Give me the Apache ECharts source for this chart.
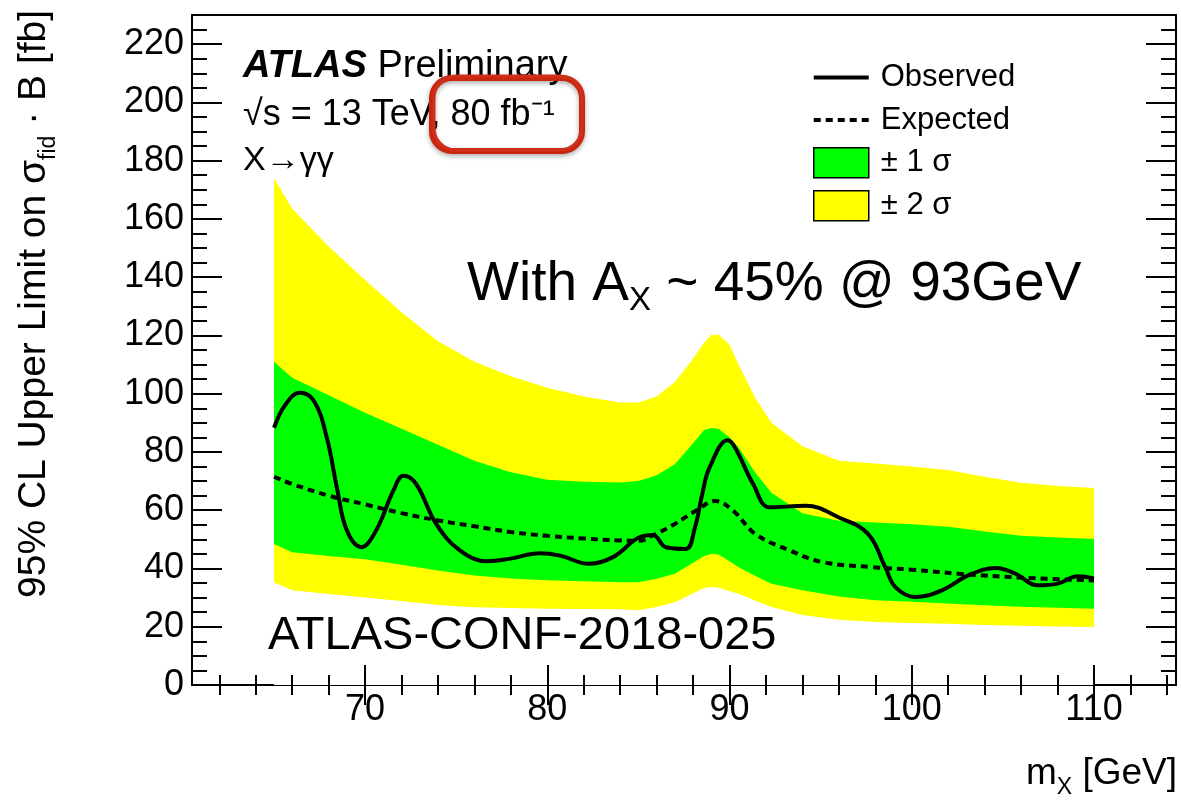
<!DOCTYPE html>
<html>
<head>
<meta charset="utf-8">
<script src="https://cdn.jsdelivr.net/npm/echarts@6/dist/echarts.min.js"></script>
<style>
  html, body { margin: 0; padding: 0; background: #fff; }
  #chart { width: 1181px; height: 800px; }
</style>
</head>
<body>
<div id="chart"></div>
<script>
const FONT = "Liberation Sans";

// bands (expected +-1 / +-2 sigma)
const bandX = [65, 66, 68, 70, 72, 74, 76, 78, 80, 82, 84, 85, 86, 87, 88, 88.6, 89, 89.4, 90, 90.5, 91.4, 92.3, 94, 96, 98, 100, 102, 104, 106, 108, 110];
const plus2 = [174, 163.5, 150.5, 139, 128, 118, 111, 106, 102, 99, 97, 97, 99, 104, 112, 117.5, 120.2, 120.2, 116.8, 110, 98.6, 90, 82, 77, 76, 75, 73.8, 71.5, 69.4, 68.3, 67.6];
const plus1 = [111, 105.5, 99.5, 93.5, 88, 82.5, 77, 73, 70.5, 69.8, 69.5, 70, 72, 75.8, 83, 87.5, 88.2, 88, 85, 81.5, 73, 66, 59, 56.4, 55.8, 55.2, 54.3, 52.7, 51.2, 50.6, 50.1];
const minus1 = [48.4, 45.6, 44.3, 43.2, 41.3, 39.3, 37.6, 36.6, 36, 35.6, 35.3, 35.3, 36.5, 38.2, 42, 44.3, 45, 44.8, 42.5, 40.4, 37.5, 34.8, 32.5, 30.4, 29.1, 28.6, 28, 27.4, 26.9, 26.5, 26.2];
const minus2 = [35.3, 32.5, 31.2, 30, 28.8, 27.5, 26.7, 26.4, 26.2, 26.1, 26, 25.7, 26.8, 28.4, 31.5, 33.3, 33.6, 33.4, 32.2, 31.3, 29, 26.8, 24, 22.4, 21.6, 21.3, 21, 20.6, 20.3, 20.1, 19.9];

const expX = [65, 66, 68, 70, 72, 74, 76, 78, 80, 82, 84, 85, 86, 87, 88.3, 89.2, 90.2, 91.4, 93.3, 95.1, 97.8, 100, 102.6, 106.2, 110];
const expY = [71.5, 69, 65, 62, 59, 56.5, 54.5, 52.5, 51.2, 50.3, 49.6, 49.5, 52, 55.3, 60.4, 63.2, 59.8, 51.9, 46.2, 42.2, 40.5, 39.6, 38.2, 36.8, 35.9];

const obsX = [65, 65.6, 66.4, 67.2, 67.9, 68.45, 69, 69.8, 70.6, 71.55, 72.1, 72.8, 73.9, 75.2, 76.7, 77.9, 79.6, 80.7, 82.3, 83.6, 85.05, 85.8, 86.5, 87.6, 88.1, 88.5, 88.9, 89.9, 90.3, 91.3, 92.2, 94.2, 96, 97.6, 98.55, 99.1, 100.2, 101.65, 103.1, 104.6, 105.7, 106.9, 108, 109.1, 110];
const obsY = [88.3, 96, 100.3, 97.4, 84.9, 67.8, 53, 47.3, 53, 66.7, 71.8, 69, 55.3, 46.2, 42.5, 43.3, 45.2, 44.4, 41.6, 43.9, 50.7, 51.5, 47.3, 46.7, 54.1, 65.5, 74.6, 84, 81.5, 68.9, 61, 61.5, 57.5, 51.9, 40.4, 33.6, 30.2, 32.5, 37.6, 40.2, 38.2, 34.2, 34.8, 37.3, 36.5];

// axis ticks
const xMajor = [70, 80, 90, 100, 110];
const xMinor = [62, 64, 66, 68, 72, 74, 76, 78, 82, 84, 86, 88, 92, 94, 96, 98, 102, 104, 106, 108, 112, 114];
const yMajor = [0, 20, 40, 60, 80, 100, 120, 140, 160, 180, 200, 220];
const yMinor = [5, 10, 15, 25, 30, 35, 45, 50, 55, 65, 70, 75, 85, 90, 95, 105, 110, 115, 125, 130, 135, 145, 150, 155, 165, 170, 175, 185, 190, 195, 205, 210, 215, 225];

const pairs = (xs, ys) => xs.map((x, i) => [x, ys[i]]);

const chart = echarts.init(document.getElementById("chart"));

function xAxisDef(position, ticks, len, showLabel) {
  return {
    type: "value", position, min: 60.5, max: 114.5, z: 10,
    axisLine: { show: false },
    splitLine: { show: false },
    axisTick: { show: true, inside: true, length: len, customValues: ticks, lineStyle: { color: "#000", width: 2 } },
    axisLabel: showLabel
      ? { show: true, customValues: ticks, color: "#000", fontSize: 36, fontFamily: FONT, margin: 7 }
      : { show: false }
  };
}

function yAxisDef(position, ticks, len, showLabel) {
  return {
    type: "value", position, min: 0, max: 230, z: 10,
    axisLine: { show: false },
    splitLine: { show: false },
    axisTick: { show: true, inside: true, length: len, customValues: ticks, lineStyle: { color: "#000", width: 2 } },
    axisLabel: showLabel
      ? { show: true, customValues: ticks, color: "#000", fontSize: 36, fontFamily: FONT, margin: 8 }
      : { show: false }
  };
}

function band(name, ys, color) {
  return {
    name, type: "line", xAxisIndex: 0, yAxisIndex: 0,
    data: pairs(bandX, ys),
    symbol: "none", silent: true,
    lineStyle: { width: 0, color },
    itemStyle: { color },
    areaStyle: { color, opacity: 1, origin: "start" }
  };
}

const option = {
  animation: false,
  backgroundColor: "#fff",
  grid: { left: 192, right: 5, top: 15, bottom: 115, show: true, borderColor: "#000", borderWidth: 2, backgroundColor: "transparent" },
  xAxis: [
    xAxisDef("bottom", xMajor, 20, true),
    xAxisDef("bottom", xMinor, 10, false),
    xAxisDef("top", xMajor, 20, false),
    xAxisDef("top", xMinor, 10, false)
  ],
  yAxis: [
    yAxisDef("left", yMajor, 30, true),
    yAxisDef("left", yMinor, 15, false),
    yAxisDef("right", yMajor, 30, false),
    yAxisDef("right", yMinor, 15, false)
  ],
  legend: {
    orient: "vertical", left: 813, top: 62, padding: 0,
    itemWidth: 55, itemHeight: 30, itemGap: 11.5,
    selectedMode: false,
    textStyle: { fontSize: 31, fontFamily: FONT, color: "#000", padding: [0, 0, 0, 7] },
    data: [
      { name: "Observed", icon: "path://M0,0L55,0L55,4L0,4Z", itemStyle: { color: "#000", borderWidth: 0 } },
      { name: "Expected", icon: "path://M0,0h7v4h-7z M12,0h7v4h-7z M24,0h7v4h-7z M36,0h7v4h-7z M48,0h7v4h-7z", itemStyle: { color: "#000", borderWidth: 0 } },
      { name: "± 1 σ", icon: "rect", itemStyle: { color: "#00ff00", borderColor: "#000", borderWidth: 1.5 } },
      { name: "± 2 σ", icon: "rect", itemStyle: { color: "#ffff00", borderColor: "#000", borderWidth: 1.5 } }
    ]
  },
  series: [
    band("± 2 σ", plus2, "#ffff00"),
    band("± 1 σ", plus1, "#00ff00"),
    band("lower 1", minus1, "#ffff00"),
    band("lower 2", minus2, "#ffffff"),
    {
      name: "Expected", type: "line", data: pairs(expX, expY),
      symbol: "none", smooth: 0.4, silent: true,
      itemStyle: { color: "#000" },
      lineStyle: { color: "#000", width: 4, type: [7, 5] }
    },
    {
      name: "Observed", type: "line", data: pairs(obsX, obsY),
      symbol: "none", smooth: 0.4, silent: true,
      itemStyle: { color: "#000" },
      lineStyle: { color: "#000", width: 4 }
    }
  ],
  graphic: [
    {
      type: "text", x: 243, y: 67, z: 100,
      style: {
        text: "{b|ATLAS} Preliminary", fontSize: 38, fontFamily: FONT, fill: "#000",
        align: "left", verticalAlign: "middle",
        rich: { b: { fontSize: 38, fontFamily: FONT, fontWeight: "bold", fontStyle: "italic" } }
      }
    },
    {
      type: "text", x: 243, y: 115, z: 100,
      style: { text: "√s = 13 TeV, 80 fb⁻¹", fontSize: 36, fontFamily: FONT, fill: "#000", align: "left", verticalAlign: "middle" }
    },
    {
      type: "text", x: 243, y: 161, z: 100,
      style: { text: "X→γγ", fontSize: 34, fontFamily: FONT, fill: "#000", align: "left", verticalAlign: "middle" }
    },
    {
      type: "rect", z: 101,
      shape: { x: 432, y: 78, width: 150, height: 73, r: 20 },
      style: { fill: "none", stroke: "#c8260f", lineWidth: 6, shadowBlur: 5, shadowColor: "rgba(0,0,0,0.35)", shadowOffsetY: 2 }
    },
    {
      type: "rect", z: 101,
      shape: { x: 434, y: 76, width: 148, height: 74, r: 22 },
      style: { fill: "none", stroke: "#d0301a", lineWidth: 3 }
    },
    {
      type: "text", x: 467, y: 285, z: 100,
      style: {
        text: "{m|With A}{s|X}{m| ~ 45% @ 93GeV}", fill: "#000", align: "left", verticalAlign: "middle",
        rich: {
          m: { fontSize: 55, fontFamily: FONT, lineHeight: 55, verticalAlign: "middle" },
          s: { fontSize: 33, fontFamily: FONT, lineHeight: 64, verticalAlign: "bottom" }
        }
      }
    },
    {
      type: "text", x: 268, y: 636, z: 100,
      style: { text: "ATLAS-CONF-2018-025", fontSize: 47, fontFamily: FONT, fill: "#000", align: "left", verticalAlign: "middle" }
    },
    {
      type: "text", x: 34, y: 598, z: 100, rotation: Math.PI / 2,
      style: {
        text: "{m|95% CL Upper Limit on σ}{s|fid}{m| · B [fb]}", fill: "#000", align: "left", verticalAlign: "middle",
        rich: {
          m: { fontSize: 39, fontFamily: FONT, lineHeight: 39, verticalAlign: "middle" },
          s: { fontSize: 23, fontFamily: FONT, lineHeight: 52, verticalAlign: "bottom" }
        }
      }
    },
    {
      type: "text", x: 1177, y: 774, z: 100,
      style: {
        text: "{m|m}{s|X}{m| [GeV]}", fill: "#000", align: "right", verticalAlign: "middle",
        rich: {
          m: { fontSize: 37, fontFamily: FONT, lineHeight: 37, verticalAlign: "middle" },
          s: { fontSize: 23, fontFamily: FONT, lineHeight: 50, verticalAlign: "bottom" }
        }
      }
    }
  ]
};

chart.setOption(option);
</script>
</body>
</html>
